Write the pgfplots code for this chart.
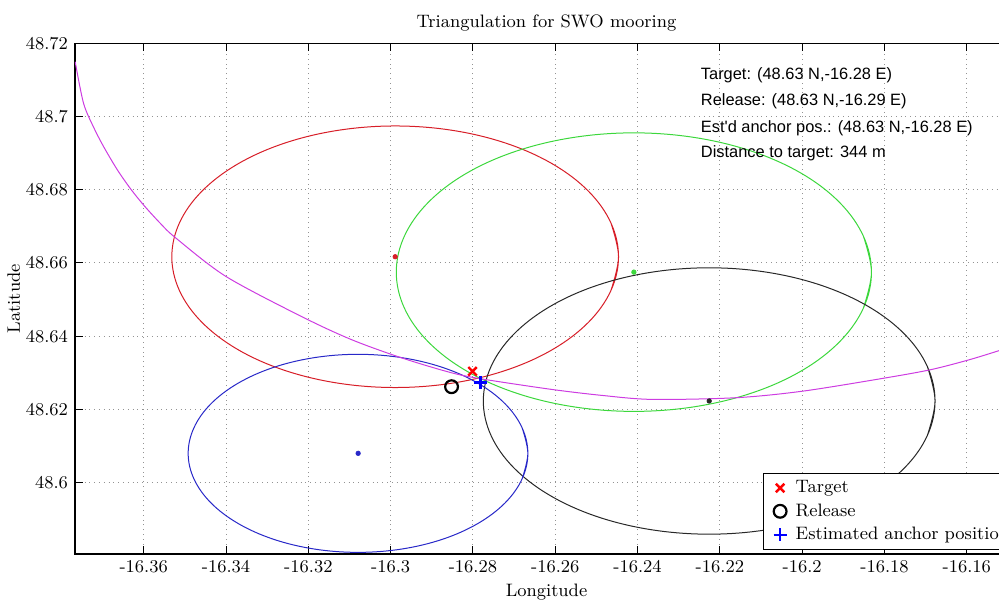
\documentclass[border=0pt]{standalone}
\usepackage{pgfplots}
\pgfplotsset{compat=1.18}
\usepackage{fontspec}
\newfontfamily\arialfont{Liberation Sans}
\definecolor{ringred}{RGB}{215,30,40}
\definecolor{ringgreen}{RGB}{60,215,60}
\definecolor{ringblue}{RGB}{40,40,200}
\definecolor{ringblack}{RGB}{40,40,40}
\definecolor{hypmag}{RGB}{205,60,225}

\begin{document}
\begin{tikzpicture}
\begin{axis}[
    at={(0,0)}, anchor=south west,
    scale only axis, width=471.5pt, height=255.35pt,
    xmin=-16.3767, xmax=-16.14756, ymin=48.5805, ymax=48.72,
    xtick={-16.36,-16.34,-16.32,-16.30,-16.28,-16.26,-16.24,-16.22,-16.20,-16.18,-16.16},
    xticklabels={-16.36,-16.34,-16.32,-16.3,-16.28,-16.26,-16.24,-16.22,-16.2,-16.18,-16.16},
    ytick={48.60,48.62,48.64,48.66,48.68,48.70,48.72},
    yticklabels={48.6,48.62,48.64,48.66,48.68,48.7,48.72},
    tick align=inside, major tick length=4pt,
    tick style={black, line width=0.5pt},
    axis line style={line width=0.6pt},
    grid=major, major grid style={dotted, gray!85, line width=0.5pt},
    every tick label/.style={font=\fontsize{9}{10}\selectfont},
    xticklabel style={yshift=0.5pt},
    label style={font=\fontsize{9}{10}\selectfont},
    title style={font=\fontsize{9}{10}\selectfont, yshift=-3.5pt},
    title={Triangulation for SWO mooring},
    xlabel={Longitude}, ylabel={Latitude},
    xlabel shift=-1pt, ylabel shift=-4pt,
    legend style={at={(rel axis cs:0.7296,0.0078)}, anchor=south west,
      font=\fontsize{9}{10}\selectfont, draw=black, line width=0.5pt,
      fill=white, row sep=0pt, column sep=2.5pt, inner xsep=5pt, inner ysep=1.5pt},
    legend cell align=left,
  ]
  % range circles
  \addplot[ringred, line width=0.5pt, smooth, tension=0.61, forget plot] coordinates {
    (-16.24648,48.65246)
    (-16.24463,48.6617) (-16.24648,48.67094) (-16.25190,48.67956) (-16.26053,48.68696)
    (-16.27176,48.69263) (-16.28485,48.69620) (-16.2989,48.69742) (-16.31295,48.69620)
    (-16.32604,48.69263) (-16.33727,48.68696) (-16.34590,48.67956) (-16.35132,48.67094)
    (-16.35317,48.6617) (-16.35132,48.65246) (-16.34590,48.64384) (-16.33727,48.63644)
    (-16.32604,48.63077) (-16.31295,48.62720) (-16.2989,48.62598) (-16.28485,48.62720)
    (-16.27176,48.63077) (-16.26053,48.63644) (-16.25190,48.64384) (-16.24648,48.65246)
    (-16.24463,48.6617) (-16.24648,48.67094)};
  \addplot[ringgreen, line width=0.5pt, smooth, tension=0.61, forget plot] coordinates {
    (-16.18514,48.64766)
    (-16.18317,48.6575) (-16.18514,48.66734) (-16.19091,48.67652) (-16.20008,48.68440)
    (-16.21203,48.69044) (-16.22596,48.69424) (-16.2409,48.69554) (-16.25584,48.69424)
    (-16.26977,48.69044) (-16.28172,48.68440) (-16.29089,48.67652) (-16.29666,48.66734)
    (-16.29863,48.6575) (-16.29666,48.64766) (-16.29089,48.63848) (-16.28172,48.63060)
    (-16.26977,48.62456) (-16.25584,48.62076) (-16.2409,48.61946) (-16.22596,48.62076)
    (-16.21203,48.62456) (-16.20008,48.63060) (-16.19091,48.63848) (-16.18514,48.64766)
    (-16.18317,48.6575) (-16.18514,48.66734)};
  \addplot[ringblack, line width=0.5pt, smooth, tension=0.61, forget plot] coordinates {
    (-16.16959,48.61288)
    (-16.16772,48.6223) (-16.16959,48.63172) (-16.17507,48.64049) (-16.18379,48.64802)
    (-16.19516,48.65381) (-16.20840,48.65744) (-16.2226,48.65868) (-16.23680,48.65744)
    (-16.25004,48.65381) (-16.26141,48.64802) (-16.27013,48.64049) (-16.27561,48.63172)
    (-16.27748,48.6223) (-16.27561,48.61288) (-16.27013,48.60411) (-16.26141,48.59658)
    (-16.25004,48.59079) (-16.23680,48.58716) (-16.2226,48.58592) (-16.20840,48.58716)
    (-16.19516,48.59079) (-16.18379,48.59658) (-16.17507,48.60411) (-16.16959,48.61288)
    (-16.16772,48.6223) (-16.16959,48.63172)};
  \addplot[ringblue, line width=0.5pt, smooth, tension=0.61, forget plot] coordinates {
    (-16.26807,48.6010)
    (-16.26666,48.6080) (-16.26807,48.6150) (-16.27219,48.62153) (-16.27875,48.62713)
    (-16.28729,48.63143) (-16.29725,48.63413) (-16.30793,48.63505) (-16.31861,48.63413)
    (-16.32857,48.63143) (-16.33711,48.62713) (-16.34367,48.62153) (-16.34779,48.6150)
    (-16.34920,48.6080) (-16.34779,48.6010) (-16.34367,48.59447) (-16.33711,48.58887)
    (-16.32857,48.58457) (-16.31861,48.58187) (-16.30793,48.58095) (-16.29725,48.58187)
    (-16.28729,48.58457) (-16.27875,48.58887) (-16.27219,48.59447) (-16.26807,48.6010)
    (-16.26666,48.6080) (-16.26807,48.6150)};
  % hyperbola
  \addplot[hypmag, line width=0.5pt, smooth, forget plot] coordinates {
    (-16.37666,48.71498) (-16.37463,48.70364) (-16.37220,48.69712) (-16.36976,48.69180)
    (-16.36649,48.68558) (-16.36324,48.68032) (-16.36000,48.67579) (-16.35593,48.67078)
    (-16.35227,48.66688) (-16.34007,48.65635) (-16.32178,48.64544) (-16.30958,48.63909)
    (-16.29739,48.63410) (-16.28519,48.63000) (-16.27707,48.62818) (-16.26080,48.62545)
    (-16.24861,48.62382) (-16.23641,48.62273) (-16.21610,48.62319) (-16.19983,48.62499)
    (-16.17951,48.62865) (-16.16854,48.63091) (-16.15917,48.63364) (-16.15129,48.63636)
    (-16.14617,48.63813)};
  % station centres
  \addplot[only marks, mark=*, mark size=1.1pt, ringred, forget plot] coordinates {(-16.2989,48.6617)};
  \addplot[only marks, mark=*, mark size=1.1pt, ringgreen, forget plot] coordinates {(-16.2409,48.6575)};
  \addplot[only marks, mark=*, mark size=1.1pt, ringblack, forget plot] coordinates {(-16.2226,48.6223)};
  \addplot[only marks, mark=*, mark size=1.1pt, ringblue, forget plot] coordinates {(-16.3079,48.6080)};
  % positions
  \addplot[only marks, mark=x, mark size=3pt, red, line width=1.2pt] coordinates {(-16.2801,48.6304)};
  \addlegendentry{Target}
  \addplot[only marks, mark=o, mark size=3.2pt, black, line width=1.1pt] coordinates {(-16.2852,48.6262)};
  \addlegendentry{Release}
  \addplot[only marks, mark=+, mark size=3.3pt, blue, line width=1.2pt] coordinates {(-16.2782,48.6273)};
  \addlegendentry{Estimated anchor position}
  % info text
  \node[anchor=west, inner sep=0pt, font=\arialfont\fontsize{8.2}{9}\selectfont] at (axis cs:-16.2247,48.7114) {Target: (48.63 N,-16.28 E)};
  \node[anchor=west, inner sep=0pt, font=\arialfont\fontsize{8.2}{9}\selectfont] at (axis cs:-16.2247,48.7041) {Release: (48.63 N,-16.29 E)};
  \node[anchor=west, inner sep=0pt, font=\arialfont\fontsize{8.2}{9}\selectfont] at (axis cs:-16.2247,48.6968) {Est'd anchor pos.: (48.63 N,-16.28 E)};
  \node[anchor=west, inner sep=0pt, font=\arialfont\fontsize{8.2}{9}\selectfont] at (axis cs:-16.2247,48.6900) {Distance to target: 344 m};
\end{axis}
\pgfresetboundingbox
\useasboundingbox (-37.5pt,-24pt) rectangle (462pt,277pt);
\end{tikzpicture}
\end{document}
